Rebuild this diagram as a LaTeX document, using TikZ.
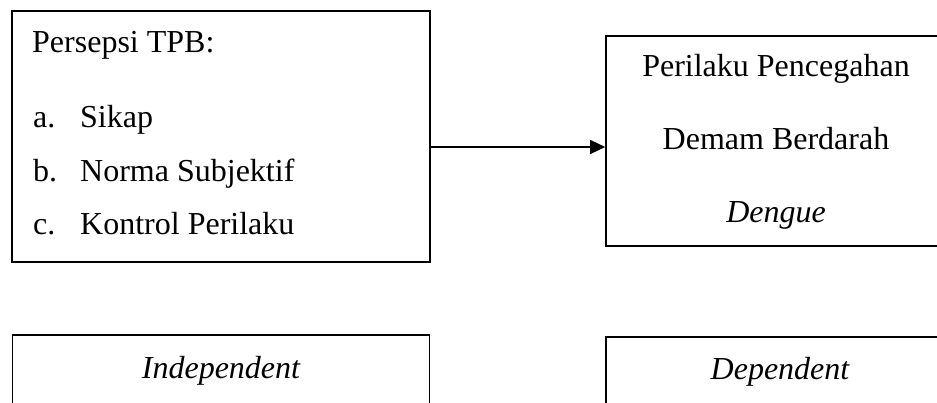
\documentclass[tikz,border=0pt]{standalone}
\usepackage{fontspec}
\setmainfont{Liberation Serif}
\usetikzlibrary{arrows.meta,positioning}

\tikzset{
  kotak/.style={draw, line width=1.6pt, inner sep=0pt},
  teks/.style={anchor=base west, inner sep=0pt, font=\fontsize{32}{38}\selectfont},
  tekstengah/.style={anchor=base, inner sep=0pt, font=\fontsize{32}{38}\selectfont},
  panah/.style={line width=1.3pt, -{Triangle[length=15pt,width=14pt]}}
}

\begin{document}
\begin{tikzpicture}[x=1pt,y=-1pt]
  %%%%% START %%%%%
  \useasboundingbox (0,0) rectangle (937,403);
  \clip (0,0) rectangle (937,403);

  % kotak variabel
  \node[kotak, minimum width=418pt, minimum height=251pt] (persepsi) at (221,136.5) {};
  \node[kotak, minimum width=342pt, minimum height=210pt] (perilaku) at (777,141) {};

  % kotak keterangan
  \node[kotak, minimum width=417pt, minimum height=85pt] (indep) at (221,377.5) {};
  \node[kotak, minimum width=344pt, minimum height=83pt] (dep) at (778,378.5) {};

  % isi kotak persepsi
  \node[teks] (judul) at (32,53) {Persepsi TPB:};
  \foreach \h/\isi [count=\i] in {a./Sikap, b./Norma Subjektif, c./Kontrol Perilaku}{
    \node[teks] (huruf\i) at (33,{128+(\i-1)*53.5}) {\h};
    \node[teks] (butir\i) at (80,{128+(\i-1)*53.5}) {\isi};
  }

  % isi kotak perilaku
  \node[tekstengah] (baris1) at (776,77) {Perilaku Pencegahan};
  \node[tekstengah] (baris2) at (776,150) {Demam Berdarah};
  \node[tekstengah] (baris3) at (776,223) {\itshape Dengue};

  \node[tekstengah] (lblindep) at (221,378) {\itshape Independent};
  \node[tekstengah] (lbldep) at (780,379) {\itshape Dependent};

  % panah
  \coordinate (garis) at (0,147);
  \draw[panah] (persepsi.east |- garis) -- (perilaku.west |- garis);
  %%%%% END %%%%%
\end{tikzpicture}
\end{document}
